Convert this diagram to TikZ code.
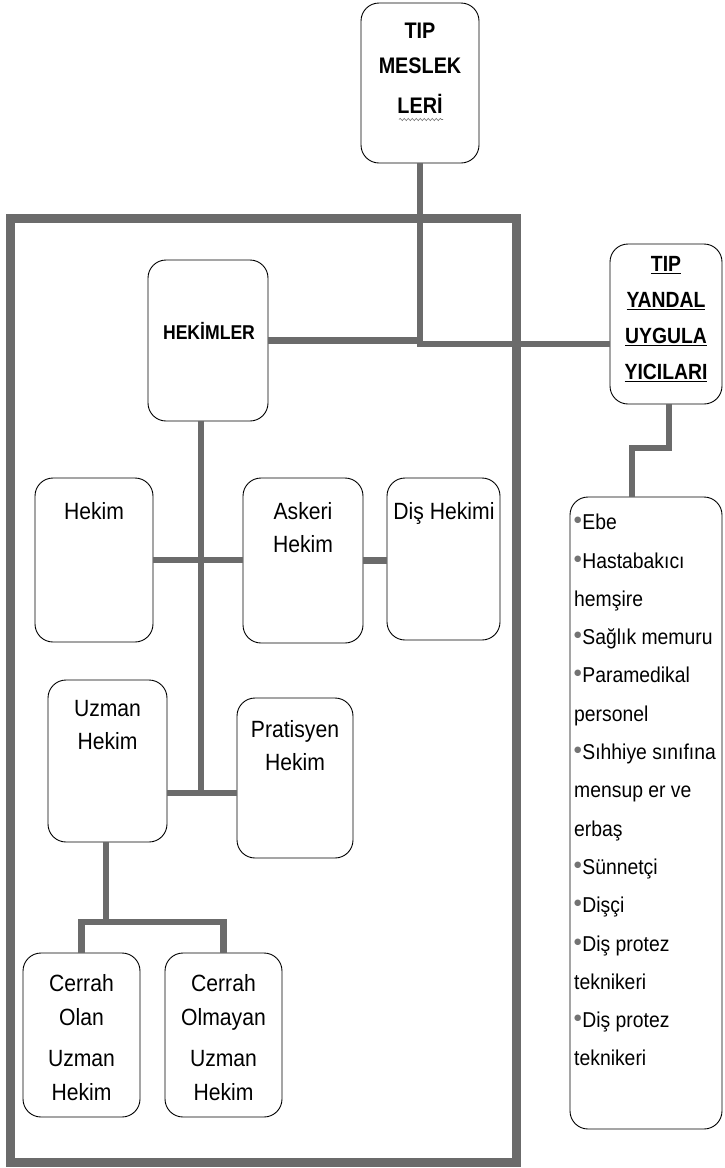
\documentclass[tikz,border=0pt]{standalone}
\usepackage{fontspec}
\setmainfont{Liberation Sans}
\newfontfamily\hfont[FakeStretch=0.88]{Liberation Sans}
\newfontfamily\nfont[FakeStretch=0.9]{Liberation Sans}
\newfontfamily\symfont{DejaVu Sans}
\usetikzlibrary{decorations.pathmorphing}
\newcommand\bul{\raisebox{7pt}{\symfont\fontsize{8.5}{8.5}\selectfont\textcolor{black!55}{●}}\hspace{0.8pt}}
\begin{document}
\begin{tikzpicture}[x=1pt,y=-1pt,
  box/.style={draw=black, line width=0.9pt, rounded corners=18pt, inner sep=0pt},
  conn/.style={draw=black!58, line width=6.5pt},
  framebox/.style={draw=black!58, line width=9pt, inner sep=0pt},
  txt/.style={font=\nfont\fontsize{23.5}{33}\selectfont, align=center, anchor=north, inner sep=0pt},
  ctxt/.style={font=\nfont\fontsize{23.5}{34}\selectfont, align=center, anchor=north, inner sep=0pt},
  head/.style={font=\hfont\bfseries\fontsize{22.5}{35}\selectfont, align=center, anchor=north, inner sep=0pt},
  headb/.style={font=\hfont\bfseries\fontsize{22}{36}\selectfont, align=center, anchor=north, inner sep=0pt},
  wavy/.style={draw=black!55, line width=0.6pt, decorate, decoration={snake, amplitude=1.1pt, segment length=4pt}}
]
\useasboundingbox (0,0) rectangle (724,1168);

% frame
\node[framebox, minimum width=506pt, minimum height=944pt] (frame) at (263,690) {};

% boxes
\node[box, minimum width=118pt, minimum height=160pt] (tipm) at (420,83) {};
\node[box, minimum width=120pt, minimum height=161pt] (hekimler) at (208,340.5) {};
\node[box, minimum width=112pt, minimum height=160pt] (tipy) at (666,324) {};
\node[box, minimum width=152pt, minimum height=632pt] (list) at (646,813) {};
\node[box, minimum width=118pt, minimum height=164pt] (hekim) at (94,560) {};
\node[box, minimum width=120pt, minimum height=165pt] (askeri) at (303,560.5) {};
\node[box, minimum width=113pt, minimum height=162pt] (dis) at (443.5,559) {};
\node[box, minimum width=119pt, minimum height=162pt] (uzman) at (107.5,761) {};
\node[box, minimum width=116pt, minimum height=160pt] (prat) at (295,778) {};
\node[box, minimum width=117pt, minimum height=164pt] (cerrah1) at (81.5,1035) {};
\node[box, minimum width=117pt, minimum height=164pt] (cerrah2) at (223.5,1035) {};

% junction coordinates
\coordinate (j1) at (420,344);
\coordinate (j2) at (201,793);
\coordinate (j3) at (106,922);
\coordinate (k1) at (669,448);
\coordinate (k2) at (632,448);

% connectors
\draw[conn] (tipm.south) -- (j1) -- (j1 -| tipy.west);
\draw[conn] (hekimler.east) -- (hekimler.east -| j1);
\draw[conn] (hekimler.south -| j2) -- (j2);
\draw[conn] (hekim.east) -- (hekim.east -| askeri.west);
\draw[conn] (askeri.east) -- (askeri.east -| dis.west);
\draw[conn] (uzman.east |- j2) -- (prat.west |- j2);
\draw[conn] (uzman.south -| j3) -- (j3);
\draw[conn] (cerrah1.north) |- (j3) -| (cerrah2.north);
\draw[conn] (tipy.south -| k1) -- (k1) -- (k2) -- (k2 |- list.north);

% texts
\node[head] (tipmT) at (420,23) {TIP\\MESLEK\\[5pt]LERİ};
\draw[wavy] (399,119.5) -- (443,119.5);
\node[headb] (tipyT) at (666,256) {\underline{TIP}\\\underline{YANDAL}\\\underline{UYGULA}\\\underline{YICILARI}};
\node[font=\hfont\bfseries\fontsize{20}{22}\selectfont, anchor=base, inner sep=0pt] (hekimlerT) at (209,339) {HEKİMLER};

\node[txt] (hekimT) at (94,502) {Hekim};
\node[txt] (askeriT) at (303,502) {Askeri\\Hekim};
\node[txt] (disT) at (444,502) {Diş Hekimi};
\node[txt] (uzmanT) at (107.5,700) {Uzman\\Hekim};
\node[txt] (pratT) at (295,720) {Pratisyen\\Hekim};
\node[ctxt] (c1T) at (81.5,974) {Cerrah\\Olan\\[7pt]Uzman\\Hekim};
\node[ctxt] (c2T) at (223.5,974) {Cerrah\\Olmayan\\[7pt]Uzman\\Hekim};

\node[anchor=north west, align=left, inner sep=0pt, font=\nfont\fontsize{21.5}{38.3}\selectfont] (listT) at (574,514)
{\bul Ebe\\
\bul Hastabakıcı\\
hemşire\\
\bul Sağlık memuru\\
\bul Paramedikal\\
personel\\
\bul Sıhhiye sınıfına\\
mensup er ve\\
erbaş\\
\bul Sünnetçi\\
\bul Dişçi\\
\bul Diş protez\\
teknikeri\\
\bul Diş protez\\
teknikeri};
\end{tikzpicture}
\end{document}
